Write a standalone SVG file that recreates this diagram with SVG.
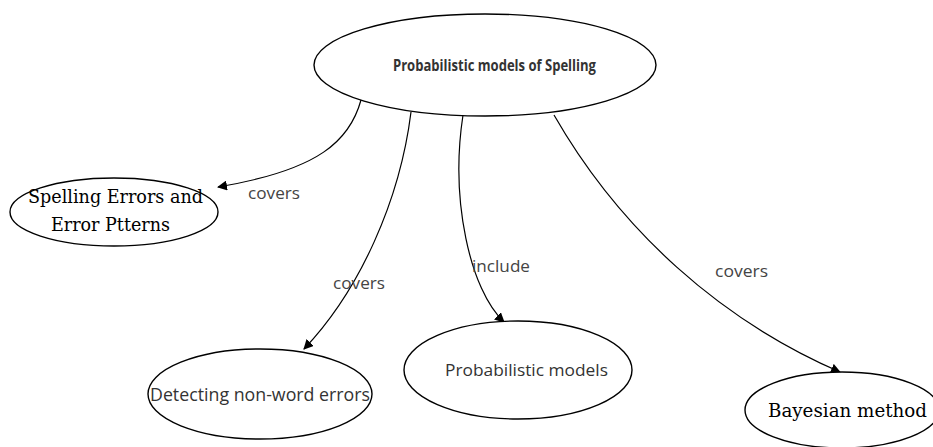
<svg xmlns="http://www.w3.org/2000/svg" width="933" height="447" viewBox="0 0 933 447">
<style>
.node{fill:#fff;stroke:#000;stroke-width:1.4}
.edge{fill:none;stroke:#000;stroke-width:1.2}
.lbl{font-family:"Open Sans","Liberation Sans",sans-serif;font-size:15.5px;fill:#444}
.sans{font-family:"Open Sans","Liberation Sans",sans-serif;fill:#333}
.serif{font-family:"DejaVu Serif","Liberation Serif",serif;fill:#000}
</style>
<defs>
<marker id="arr" viewBox="0 0 10 10" refX="9" refY="5" markerWidth="10" markerHeight="10" markerUnits="userSpaceOnUse" orient="auto">
<path d="M0,0 L10,5 L0,10 z" fill="#000"/>
</marker>
</defs>
<rect width="933" height="447" fill="#fff"/>
<g id="connectors">
<path class="edge" d="M361,100 C350,140 320,170 218,187" marker-end="url(#arr)"/>
<path class="edge" d="M411,112 C400,200 360,290 304,349" marker-end="url(#arr)"/>
<path class="edge" d="M463,115 C450,200 470,290 504,322" marker-end="url(#arr)"/>
<path class="edge" d="M554,115 C620,230 720,320 840,372" marker-end="url(#arr)"/>
<text class="lbl" x="248" y="199" textLength="52" lengthAdjust="spacingAndGlyphs">covers</text>
<text class="lbl" x="333" y="289" textLength="52" lengthAdjust="spacingAndGlyphs">covers</text>
<text class="lbl" x="472" y="272" textLength="58" lengthAdjust="spacingAndGlyphs">include</text>
<text class="lbl" x="715" y="277" textLength="53" lengthAdjust="spacingAndGlyphs">covers</text>
</g>
<g id="n-main">
<ellipse class="node" cx="485" cy="65" rx="171" ry="51"/>
<text class="sans" x="393" y="71" font-size="15.5" font-weight="bold" textLength="203" lengthAdjust="spacingAndGlyphs">Probabilistic models of Spelling</text>
</g>
<g id="n-spelling">
<ellipse class="node" cx="114" cy="212" rx="104" ry="34"/>
<text class="serif" x="28" y="203" font-size="18" textLength="175" lengthAdjust="spacingAndGlyphs">Spelling Errors and</text>
<text class="serif" x="51" y="231" font-size="18" textLength="119" lengthAdjust="spacingAndGlyphs">Error Ptterns</text>
</g>
<g id="n-detecting">
<ellipse class="node" cx="260" cy="394" rx="112" ry="45"/>
<text class="sans" x="150" y="401" font-size="17.5" textLength="220" lengthAdjust="spacingAndGlyphs">Detecting non-word errors</text>
</g>
<g id="n-probmodels">
<ellipse class="node" cx="518" cy="370" rx="114" ry="49"/>
<text class="sans" x="445" y="376" font-size="17" textLength="163" lengthAdjust="spacingAndGlyphs">Probabilistic models</text>
</g>
<g id="n-bayesian">
<ellipse class="node" cx="842" cy="410" rx="97" ry="38"/>
<text class="serif" x="768" y="417" font-size="18" textLength="159" lengthAdjust="spacingAndGlyphs">Bayesian method</text>
</g>
</svg>
